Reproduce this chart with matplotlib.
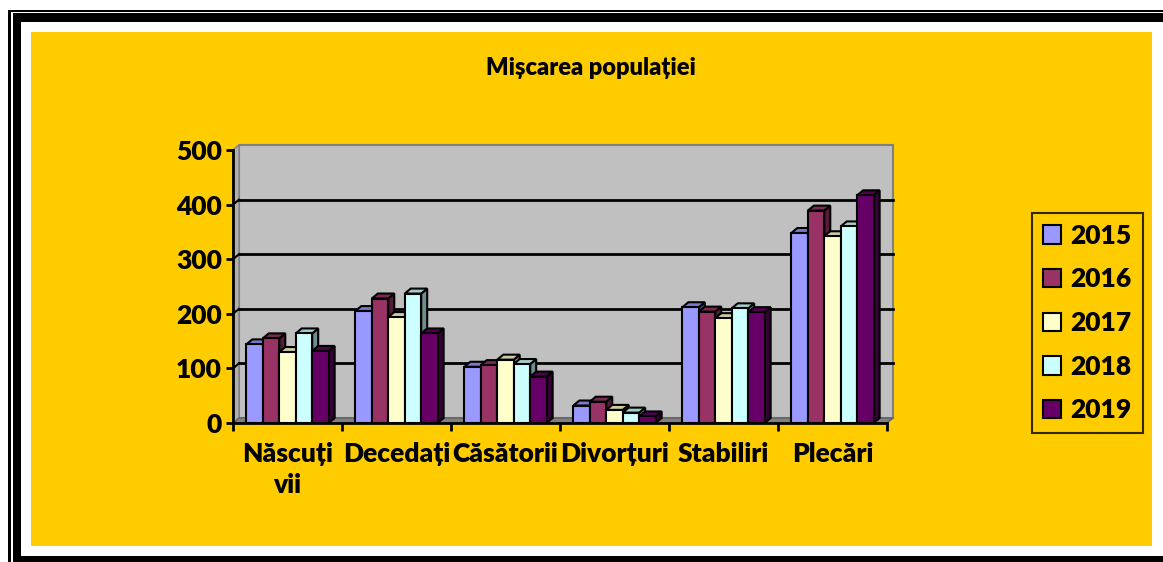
import matplotlib
matplotlib.use("Agg")
import matplotlib.pyplot as plt
import numpy as np
from matplotlib.patches import Rectangle, Polygon, Patch

plt.rcParams['font.family'] = ['Lato', 'DejaVu Sans']
plt.rcParams['font.weight'] = 'heavy'

# date
categorii = ["Născuți\nvii", "Decedați", "Căsătorii", "Divorțuri", "Stabiliri", "Plecări"]
ani = ["2015", "2016", "2017", "2018", "2019"]
valori = {
    "2015": [144, 205, 103, 32, 212, 348],
    "2016": [155, 228, 106, 39, 204, 389],
    "2017": [130, 194, 116, 24, 192, 342],
    "2018": [164, 237, 108, 19, 210, 360],
    "2019": [132, 164, 85, 12, 203, 417],
}
culori = ["#9999FF", "#993366", "#FFFFCC", "#CCFFFF", "#660066"]
y_ticks = [0, 100, 200, 300, 400, 500]

W, H = 1163, 562
fig = plt.figure(figsize=(W / 100, H / 100), dpi=100)


def rect_px(x0, y0, x1, y1, color):
    # dreptunghi in pixeli (origine sus-stanga)
    fig.patches.append(Rectangle((x0 / W, 1 - y1 / H), (x1 - x0) / W, (y1 - y0) / H,
                                 transform=fig.transFigure, facecolor=color,
                                 edgecolor="none", zorder=-10))


# rama dubla + fundal galben
rect_px(8, 10, 1200, 600, "black")
rect_px(11, 12, 1200, 600, "white")
rect_px(13, 13, 1200, 600, "black")
rect_px(21, 22, 1200, 556, "white")
rect_px(31, 32, 1152, 546, "#FFCC00")

# axa (planul frontal)
left, right, bottom, top = 233, 887, 423, 150
ax = fig.add_axes([left / W, 1 - bottom / H, (right - left) / W, (bottom - top) / H])
ax.set_xlim(-0.5, len(categorii) - 0.5)
ax.set_ylim(0, 500)
ax.patch.set_visible(False)

# adancime 3D, in unitati de date
px_x = len(categorii) / (right - left)
px_y = 500 / (bottom - top)
dx, dy = 6 * px_x, 5 * px_y
x0, x1 = -0.5, len(categorii) - 0.5

# perete spate, perete stang, podea
ax.add_patch(Rectangle((x0 + dx, dy), x1 - x0, 500, facecolor="#C0C0C0",
                       edgecolor="#808080", lw=1.5, clip_on=False, zorder=0))
ax.add_patch(Polygon([(x0, 0), (x0 + dx, dy), (x0 + dx, 500 + dy), (x0, 500)],
                     facecolor="#B0B0B0", edgecolor="#808080", lw=1, clip_on=False, zorder=0.5))
ax.add_patch(Polygon([(x0, 0), (x1, 0), (x1 + dx, dy), (x0 + dx, dy)],
                     facecolor="#808080", edgecolor="#606060", lw=1, clip_on=False, zorder=0.5))
for v in y_ticks[1:-1]:
    ax.plot([x0 + dx, x1 + dx], [v + dy, v + dy], color="black", lw=2, zorder=1, clip_on=False)
    ax.plot([x0, x0 + dx], [v, v + dy], color="black", lw=1.5, zorder=1, clip_on=False)

# bare 3D
x = np.arange(len(categorii))
bw = 0.151
for i, an in enumerate(ani):
    col = np.array(matplotlib.colors.to_rgb(culori[i]))
    pos = x + (i - 2) * bw
    for xc, h in zip(pos, valori[an]):
        a, b = xc - bw / 2, xc + bw / 2
        ax.add_patch(Polygon([(b, 0), (b + dx, dy), (b + dx, h + dy), (b, h)],
                             facecolor=col * 0.55, edgecolor="black", lw=1.5,
                             clip_on=False, zorder=3 + i))
        ax.add_patch(Polygon([(a, h), (b, h), (b + dx, h + dy), (a + dx, h + dy)],
                             facecolor=col * 0.8, edgecolor="black", lw=1.5,
                             clip_on=False, zorder=3 + i))
    ax.bar(pos, valori[an], bw, color=culori[i], edgecolor="black", lw=1.5,
           zorder=3.5 + i, label=an)

# axe
for s in ["top", "right"]:
    ax.spines[s].set_visible(False)
ax.spines["left"].set_linewidth(2)
ax.spines["bottom"].set_linewidth(2)
ax.spines["left"].set_zorder(20)
ax.spines["bottom"].set_zorder(20)
ax.set_yticks(y_ticks)
ax.tick_params(axis="y", length=5, width=2, labelsize=19, pad=3)
ax.set_xticks(np.arange(len(categorii) + 1) - 0.5)
ax.set_xticklabels([])
ax.set_xticks(x, minor=True)
ax.set_xticklabels(categorii, minor=True)
ax.tick_params(axis="x", which="major", length=6, width=2)
ax.tick_params(axis="x", which="minor", length=0, labelsize=19, pad=14)
for t in ax.get_xticklabels(minor=True):
    t.set_linespacing(1.35)
    t.set_verticalalignment("top")

fig.text(591 / W, 1 - 68 / H, "Mișcarea populației", ha="center", va="center",
         fontsize=17, fontweight="heavy")

handles = [Patch(facecolor=c, edgecolor="black", lw=1.5) for c in culori]
leg = fig.legend(handles, ani, loc="center", bbox_to_anchor=(1087.5 / W, 1 - 323 / H),
                 prop={"size": 19, "weight": "heavy"}, frameon=True, fancybox=False,
                 edgecolor="black", facecolor="none", borderpad=0.42, labelspacing=0.74,
                 handlelength=0.7, handleheight=0.7, handletextpad=0.35, borderaxespad=0)
leg.get_frame().set_linewidth(1.5)

fig.savefig("out.png", dpi=100)
